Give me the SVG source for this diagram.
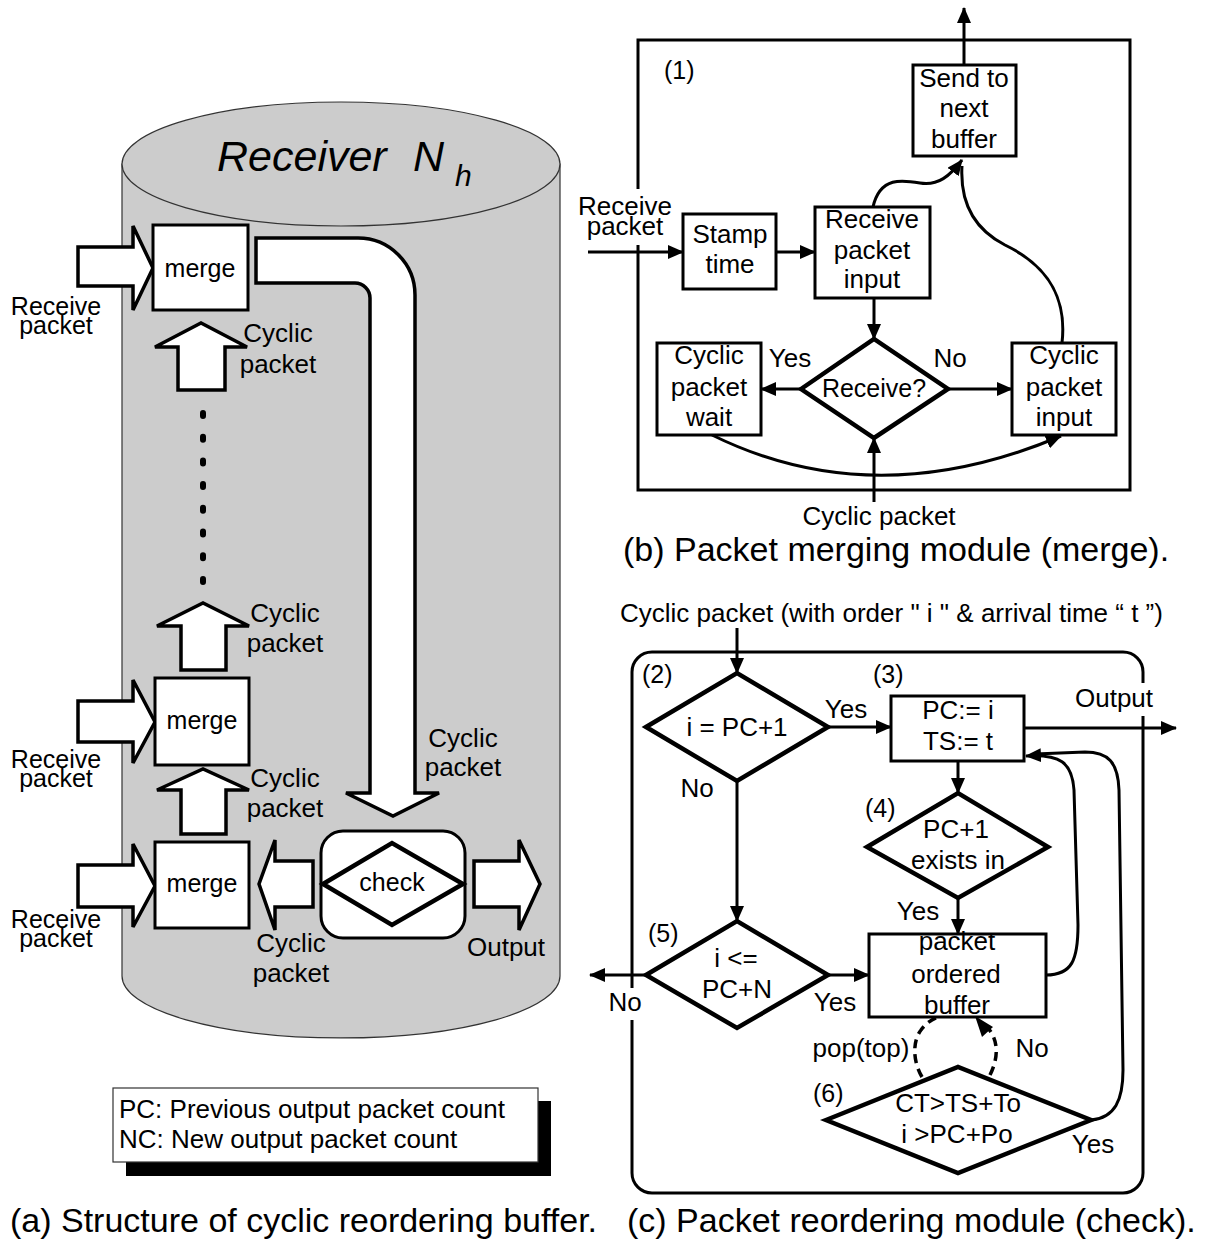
<svg xmlns="http://www.w3.org/2000/svg" width="1214" height="1243" viewBox="0 0 1214 1243">
<defs>
<marker id="ah" viewBox="0 0 16 14" refX="15" refY="7" markerWidth="16" markerHeight="14" markerUnits="userSpaceOnUse" orient="auto"><path d="M0,0 L16,7 L0,14 Z" fill="#000"/></marker>
</defs>
<style>
text{font-family:"Liberation Sans",Arial,sans-serif;fill:#000}
.t{font-size:26px}
.s{font-size:25px}
.m{text-anchor:middle}
.box{fill:#fff;stroke:#000;stroke-width:3}
.dia{fill:#fff;stroke:#000;stroke-width:4.5;stroke-linejoin:miter}
.blk{fill:#fff;stroke:#000;stroke-width:3.5;stroke-linejoin:miter}
.ln{fill:none;stroke:#000;stroke-width:3}
.arr{fill:none;stroke:#000;stroke-width:3;marker-end:url(#ah)}
.dash{fill:none;stroke:#000;stroke-width:3.5;stroke-dasharray:9 6}
.cap{font-size:34px}
.wb{fill:#fff;stroke:none}
</style>
<rect width="1214" height="1243" fill="#fff"/>

<!-- (a) structure -->
<g id="cylinder">
<path d="M122,164 V976 A219,62 0 0 0 560,976 V164 Z" fill="#ccc" stroke="#333" stroke-width="1.2"/>
<ellipse cx="341" cy="164" rx="219" ry="62" fill="#ccc" stroke="#333" stroke-width="1.2"/>
<text x="217" y="171" font-size="43" font-style="italic">Receiver</text>
<text x="413" y="171" font-size="43" font-style="italic">N</text>
<text x="455" y="186" font-size="30" font-style="italic">h</text>
</g>

<g id="a-connectors">
<path class="blk" d="M78,247 H133 V226 L153,268 L133,310 V286 H78 Z"/>
<path class="blk" d="M78,701 H133 V680 L155,722 L133,763 V742 H78 Z"/>
<path class="blk" d="M78,865 H133 V844 L155,886 L133,927 V907 H78 Z"/>
<path class="blk" d="M178,390 V347 H155 L201,323 L247,347 H225 V390 Z"/>
<path class="blk" d="M181,670 V626 H157 L203,603 L249,626 H226 V670 Z"/>
<path class="blk" d="M181,834 V790 H157 L203,769 L249,790 H226 V834 Z"/>
<path class="blk" d="M313,861 H275 V840 L259,884 L275,930 V907 H313 Z"/>
<path class="blk" d="M474,861 H519 V840 L540,884 L519,930 V907 H474 Z"/>
<path class="blk" d="M256,238 H358 A57,57 0 0 1 415,295 V793 H439 L393,816 L346,793 H370 V298 A15,15 0 0 0 355,283 H256 Z"/>
<line x1="203" y1="413" x2="203" y2="584" stroke="#000" stroke-width="6" stroke-linecap="round" stroke-dasharray="3 20.7"/>
</g>

<g id="merge1"><rect class="box" x="153" y="225" width="95" height="85"/><text class="s m" x="200" y="277">merge</text></g>
<g id="merge2"><rect class="box" x="155" y="678" width="94" height="87"/><text class="s m" x="202" y="729">merge</text></g>
<g id="merge3"><rect class="box" x="155" y="842" width="94" height="86"/><text class="s m" x="202" y="892">merge</text></g>
<g id="check"><rect class="box" x="321" y="831" width="144" height="107" rx="22"/><path class="dia" d="M323,884 L392,843 L463,884 L392,925 Z"/><text class="s m" x="392" y="891">check</text></g>

<g id="a-labels">
<text class="s m" x="56" y="315">Receive</text><text class="s m" x="56" y="334">packet</text>
<text class="s m" x="56" y="768">Receive</text><text class="s m" x="56" y="787">packet</text>
<text class="s m" x="56" y="928">Receive</text><text class="s m" x="56" y="947">packet</text>
<text class="t m" x="278" y="342">Cyclic</text><text class="t m" x="278" y="373">packet</text>
<text class="t m" x="285" y="622">Cyclic</text><text class="t m" x="285" y="652">packet</text>
<text class="t m" x="285" y="787">Cyclic</text><text class="t m" x="285" y="817">packet</text>
<text class="t m" x="291" y="952">Cyclic</text><text class="t m" x="291" y="982">packet</text>
<text class="t m" x="463" y="747">Cyclic</text><text class="t m" x="463" y="776">packet</text>
<text class="t m" x="506" y="956">Output</text>
</g>

<g id="legend">
<rect x="126" y="1101" width="425" height="75" fill="#000"/>
<rect x="113" y="1088" width="425" height="74" fill="#fff" stroke="#333" stroke-width="1.2"/>
<text class="t" x="119" y="1118">PC: Previous output packet count</text>
<text class="t" x="119" y="1148">NC: New output packet count</text>
</g>

<text class="cap" x="10" y="1232">(a) Structure of cyclic reordering buffer.</text>
<text class="cap" x="627" y="1232">(c) Packet reordering module (check).</text>

<!-- (b) merging module -->
<g id="merge-module">
<rect x="638" y="40" width="492" height="450" fill="none" stroke="#000" stroke-width="3"/>
<rect class="wb" x="577" y="189" width="97" height="56"/>
<text class="t m" x="625" y="215">Receive</text><text class="t m" x="625" y="235">packet</text>
<text class="s" x="664" y="79">(1)</text>
</g>
<g id="b-connectors">
<line class="arr" x1="964" y1="65" x2="964" y2="8"/>
<line class="arr" x1="588" y1="252" x2="683" y2="252"/>
<line class="arr" x1="776" y1="252" x2="815" y2="252"/>
<path class="arr" d="M873,207 C880,176 903,180 920,183 C938,186 950,176 962,160"/>
<path class="ln" d="M1062,343 C1068,290 1040,262 1005,245 C972,228 960,200 962,166"/>
<line class="arr" x1="874" y1="298" x2="874" y2="339"/>
<line class="arr" x1="801" y1="389" x2="761" y2="389"/>
<line class="arr" x1="948" y1="389" x2="1012" y2="389"/>
<path class="arr" d="M712,435 Q874,515 1061,436"/>
<line class="arr" x1="874" y1="502" x2="874" y2="438"/>
</g>
<g id="send"><rect class="box" x="913" y="65" width="103" height="91"/><text class="t m" x="964" y="87">Send to</text><text class="t m" x="964" y="117">next</text><text class="t m" x="964" y="148">buffer</text></g>
<g id="stamp"><rect class="box" x="683" y="214" width="93" height="75"/><text class="t m" x="730" y="243">Stamp</text><text class="t m" x="730" y="273">time</text></g>
<g id="recv-input"><rect class="box" x="815" y="207" width="115" height="91"/><text class="t m" x="872" y="228">Receive</text><text class="t m" x="872" y="259">packet</text><text class="t m" x="872" y="288">input</text></g>
<g id="receive-q"><path class="dia" d="M801,389 L874,339 L948,389 L874,438 Z"/><text class="s m" x="874" y="397">Receive?</text></g>
<g id="cyc-wait"><rect class="box" x="657" y="343" width="104" height="92"/><text class="t m" x="709" y="364">Cyclic</text><text class="t m" x="709" y="396">packet</text><text class="t m" x="709" y="426">wait</text></g>
<g id="cyc-input"><rect class="box" x="1012" y="343" width="104" height="92"/><text class="t m" x="1064" y="364">Cyclic</text><text class="t m" x="1064" y="396">packet</text><text class="t m" x="1064" y="426">input</text></g>
<g id="b-labels">
<text class="t m" x="790" y="367">Yes</text>
<text class="t m" x="950" y="367">No</text>
<text class="t m" x="879" y="525">Cyclic packet</text>
<text class="cap" x="623" y="561">(b) Packet merging module (merge).</text>
</g>

<!-- (c) reordering module -->
<g id="reorder-module">
<text class="t" x="620" y="622">Cyclic packet (with order " i " &amp; arrival time “ t ”)</text>
<rect x="632" y="652" width="511" height="541" rx="20" fill="none" stroke="#000" stroke-width="3"/>
<rect class="wb" x="1068" y="683" width="92" height="33"/>
<rect class="wb" x="606" y="988" width="40" height="32"/>
</g>
<g id="c-connectors">
<line class="arr" x1="737" y1="628" x2="737" y2="673"/>
<line class="arr" x1="828" y1="727" x2="891" y2="727"/>
<line class="arr" x1="1024" y1="728" x2="1176" y2="728"/>
<line class="arr" x1="737" y1="781" x2="737" y2="921"/>
<line class="arr" x1="958" y1="761" x2="958" y2="793"/>
<line class="arr" x1="958" y1="898" x2="958" y2="934"/>
<line class="arr" x1="646" y1="975" x2="590" y2="975"/>
<line class="arr" x1="828" y1="975" x2="869" y2="975"/>
<path class="arr" d="M1046,975 C1072,975 1078,960 1078,925 L1074,790 C1072,762 1060,754 1026,756"/>
<path class="ln" d="M1091,1120 C1115,1118 1123,1100 1123,1070 L1119,790 C1118,762 1108,752 1085,752 L1035,754"/>
<path class="dash" d="M922,1077 C912,1060 913,1040 921,1030 C927,1022 934,1018 942,1016"/>
<path class="dash" d="M990,1075 C1000,1055 998,1036 984,1024"/>
<path d="M975,1016 L993,1027 L982,1037 Z" fill="#000"/>
</g>
<g id="d2"><path class="dia" d="M646,727 L737,673 L828,727 L737,781 Z"/><text class="t m" x="737" y="736">i = PC+1</text></g>
<g id="b3"><rect class="box" x="891" y="696" width="133" height="65"/><text class="t m" x="958" y="719">PC:= i</text><text class="t m" x="958" y="750">TS:= t</text></g>
<g id="d4"><path class="dia" d="M867,847 L958,793 L1048,847 L958,898 Z"/><text class="t m" x="956" y="838">PC+1</text><text class="t m" x="958" y="869">exists in</text></g>
<g id="buf"><rect class="box" x="869" y="934" width="177" height="83"/><text class="t m" x="957" y="950">packet</text><text class="t m" x="956" y="983">ordered</text><text class="t m" x="957" y="1014">buffer</text></g>
<g id="d5"><path class="dia" d="M646,975 L737,921 L828,975 L737,1028 Z"/><text class="t m" x="736" y="967">i &lt;=</text><text class="t m" x="737" y="998">PC+N</text></g>
<g id="d6"><path class="dia" d="M826,1120 L958,1067 L1091,1120 L958,1173 Z"/><text class="t m" x="958" y="1112">CT&gt;TS+To</text><text class="t m" x="957" y="1143">i &gt;PC+Po</text></g>
<g id="c-labels">
<text class="s" x="642" y="683">(2)</text>
<text class="s" x="873" y="683">(3)</text>
<text class="s" x="865" y="817">(4)</text>
<text class="s" x="648" y="942">(5)</text>
<text class="s" x="813" y="1102">(6)</text>
<text class="t m" x="846" y="718">Yes</text>
<text class="t m" x="1114" y="707">Output</text>
<text class="t m" x="697" y="797">No</text>
<text class="t m" x="918" y="920">Yes</text>
<text class="t m" x="625" y="1011">No</text>
<text class="t m" x="835" y="1011">Yes</text>
<text class="t m" x="861" y="1057">pop(top)</text>
<text class="t m" x="1032" y="1057">No</text>
<text class="t m" x="1093" y="1153">Yes</text>
</g>
</svg>
